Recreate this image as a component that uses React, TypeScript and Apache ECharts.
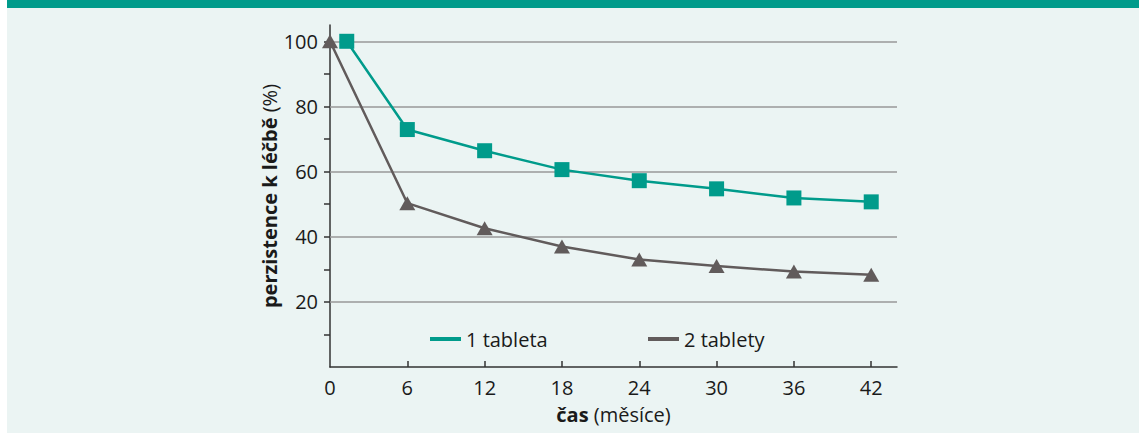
import React, { useEffect, useRef } from "react";
import * as echarts from "echarts";

const seriesNames = ["1 tableta", "2 tablety"];
const oneTabletX = [1.3, 6, 12, 18, 24, 30, 36, 42];
const oneTabletY = [100, 72.9, 66.4, 60.6, 57.2, 54.7, 51.9, 50.7];
const twoTabletsX = [0, 6, 12, 18, 24, 30, 36, 42];
const twoTabletsY = [100, 50.3, 42.6, 37, 33, 31, 29.3, 28.3];
const xTickLabels = [0, 6, 12, 18, 24, 30, 36, 42];
const xTicks = [6, 12, 18, 24, 30, 36, 42];
const yTickLabels = [20, 40, 60, 80, 100];
const yTicks = [10, 20, 30, 40, 50, 60, 70, 80, 90, 100];
const gridValues = [20, 40, 60, 80, 100];

const TEAL = "#009b8b";
const GRAY = "#615b5b";
const FONT = "Open Sans";
const TXT = "#1a1a1a";
const FS = 20;
const FSB = 20;

export default function App() {
  const ref = useRef<HTMLDivElement>(null);
  useEffect(() => {
    if (!ref.current) return;
    const chart = echarts.init(ref.current, undefined, { renderer: "svg" });
    const legendText = { fontSize: FS, color: TXT, fontFamily: FONT };
    const nameStyle = {
      fontSize: FS,
      color: TXT,
      fontFamily: FONT,
      rich: {
        b: { fontWeight: "bold", fontSize: FSB, color: TXT, fontFamily: FONT },
        n: { fontSize: FS, color: TXT, fontFamily: FONT },
      },
    };
    chart.setOption({
      animation: false,
      backgroundColor: "transparent",
      grid: { left: 330, right: 242, top: 25, bottom: 66 },
      legend: [
        {
          data: [seriesNames[0]],
          left: 425,
          top: 324,
          icon: "rect",
          itemWidth: 31,
          itemHeight: 4,
          textStyle: legendText,
        },
        {
          data: [seriesNames[1]],
          left: 643,
          top: 324,
          icon: "rect",
          itemWidth: 31,
          itemHeight: 4,
          textStyle: legendText,
        },
      ],
      xAxis: {
        type: "value",
        min: 0,
        max: 44,
        interval: 2,
        name: "{b|čas}{n| (měsíce)}",
        nameLocation: "middle",
        nameGap: 37,
        nameTextStyle: nameStyle,
        axisLine: { show: true, lineStyle: { color: "#333", width: 1.5 } },
        axisTick: {
          show: true,
          inside: true,
          length: 6,
          customValues: xTicks,
          lineStyle: { color: "#333", width: 1.5 },
        },
        axisLabel: {
          customValues: xTickLabels,
          fontSize: FS,
          color: TXT,
          margin: 10,
          fontFamily: FONT,
        },
        splitLine: { show: false },
      },
      yAxis: {
        type: "value",
        min: 0,
        max: 105,
        interval: 5,
        name: "{b|perzistence k léčbě}{n| (%)}",
        nameLocation: "middle",
        nameGap: 45,
        nameTextStyle: nameStyle,
        axisLine: { show: true, lineStyle: { color: "#333", width: 1.5 } },
        axisTick: {
          show: true,
          length: 6,
          customValues: yTicks,
          lineStyle: { color: "#333", width: 1.5 },
        },
        axisLabel: {
          customValues: yTickLabels,
          fontSize: FS,
          color: TXT,
          margin: 12,
          fontFamily: FONT,
        },
        splitLine: { show: false },
      },
      series: [
        {
          name: seriesNames[0],
          type: "line",
          data: oneTabletX.map((x, i) => [x, oneTabletY[i]]),
          symbol: "rect",
          symbolSize: 15,
          color: TEAL,
          lineStyle: { color: TEAL, width: 2.5 },
          itemStyle: { color: TEAL },
          z: 4,
          markLine: {
            silent: true,
            symbol: "none",
            label: { show: false },
            lineStyle: { color: "#999", width: 1.5, type: "solid" },
            data: gridValues.map((v) => ({ yAxis: v })),
            z: 1,
          },
        },
        {
          name: seriesNames[1],
          type: "line",
          data: twoTabletsX.map((x, i) => [x, twoTabletsY[i]]),
          symbol: "triangle",
          symbolSize: [16, 14],
          color: GRAY,
          lineStyle: { color: GRAY, width: 2.5 },
          itemStyle: { color: GRAY },
          z: 5,
        },
      ],
    });
    return () => chart.dispose();
  }, []);

  return (
    <div style={{ position: "fixed", left: 0, top: 0, width: 1139, height: 433, background: "#fff" }}>
      <div style={{ position: "absolute", left: 7, top: 0, width: 1132, height: 8, background: TEAL }} />
      <div style={{ position: "absolute", left: 7, top: 8, width: 1132, height: 425, background: "#ebf4f3" }} />
      <div ref={ref} style={{ position: "absolute", left: 0, top: 0, width: 1139, height: 433 }} />
    </div>
  );
}
